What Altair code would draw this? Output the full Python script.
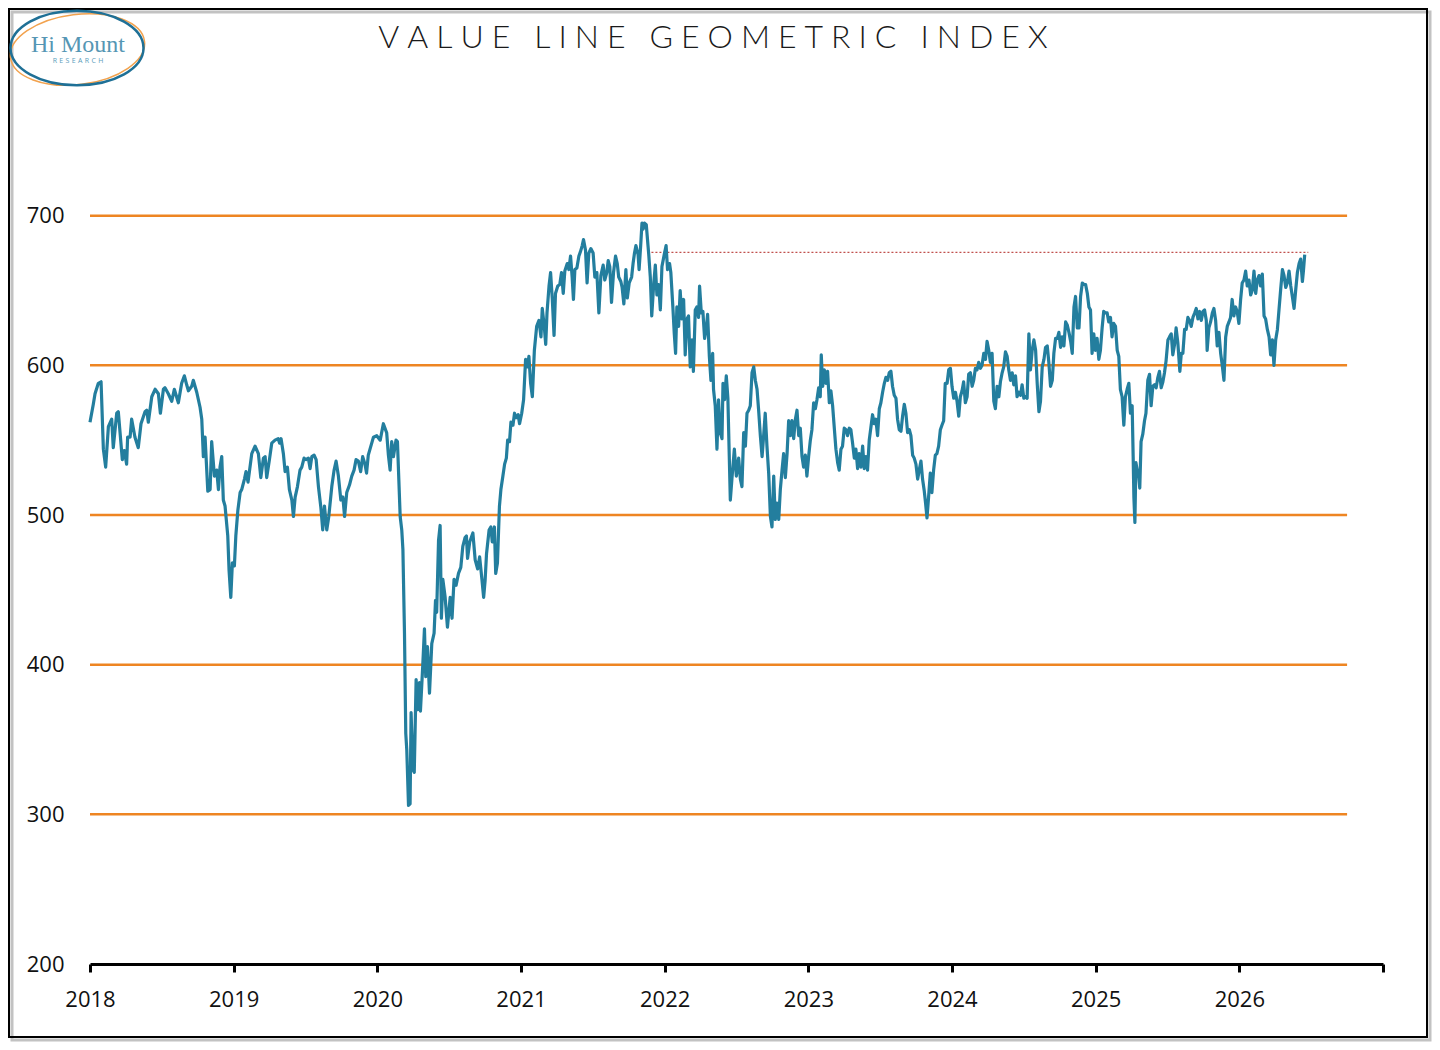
import altair as alt
import pandas as pd

# Index level, as (decimal year, level) pairs
pts_2018 = [
    (2018.000, 562), (2018.023, 574), (2018.035, 581), (2018.058, 588), (2018.077, 589),
    (2018.093, 544), (2018.109, 532), (2018.128, 559), (2018.151, 564), (2018.162, 545),
    (2018.186, 568), (2018.197, 569), (2018.225, 537), (2018.239, 543), (2018.255, 534),
    (2018.262, 552), (2018.279, 552), (2018.290, 564), (2018.313, 552), (2018.336, 545),
    (2018.355, 561), (2018.383, 569), (2018.395, 570), (2018.406, 562), (2018.430, 579),
    (2018.453, 584), (2018.476, 581), (2018.490, 568), (2018.511, 584), (2018.522, 585),
    (2018.545, 581), (2018.569, 576), (2018.587, 584), (2018.615, 575), (2018.638, 588),
    (2018.657, 593), (2018.673, 587), (2018.685, 583), (2018.708, 586), (2018.719, 590),
    (2018.743, 582), (2018.766, 572), (2018.778, 564), (2018.789, 539), (2018.801, 552),
    (2018.820, 516), (2018.836, 517), (2018.847, 549), (2018.866, 526), (2018.882, 530),
    (2018.894, 517), (2018.905, 532), (2018.917, 539), (2018.928, 510), (2018.940, 506),
    (2018.959, 486), (2018.968, 463), (2018.980, 445), (2018.991, 468),
]
pts_2019 = [
    (2019.005, 466), (2019.015, 486), (2019.029, 503), (2019.045, 515), (2019.056, 517),
    (2019.075, 524), (2019.086, 529), (2019.100, 522), (2019.126, 541), (2019.149, 546),
    (2019.172, 541), (2019.189, 525), (2019.207, 538), (2019.219, 539), (2019.230, 525),
    (2019.249, 537), (2019.265, 548), (2019.288, 550), (2019.310, 551), (2019.320, 548),
    (2019.330, 551), (2019.346, 541), (2019.358, 529), (2019.374, 532), (2019.388, 517),
    (2019.405, 510), (2019.416, 499), (2019.428, 512), (2019.444, 519), (2019.462, 530),
    (2019.474, 532), (2019.490, 538), (2019.503, 537), (2019.520, 538), (2019.532, 531),
    (2019.544, 539), (2019.560, 540), (2019.574, 537), (2019.590, 519), (2019.607, 505),
    (2019.620, 490), (2019.632, 506), (2019.648, 490), (2019.662, 499), (2019.683, 519),
    (2019.699, 530), (2019.713, 536), (2019.729, 526), (2019.746, 510), (2019.760, 512),
    (2019.772, 499), (2019.787, 515), (2019.806, 520), (2019.822, 526), (2019.838, 530),
    (2019.852, 537), (2019.868, 536), (2019.884, 529), (2019.898, 539), (2019.914, 534),
    (2019.925, 528), (2019.937, 540), (2019.973, 552), (2019.996, 553),
]
pts_2020 = [
    (2020.020, 550), (2020.042, 561), (2020.065, 555), (2020.077, 540), (2020.089, 530),
    (2020.100, 549), (2020.112, 539), (2020.130, 550), (2020.140, 549), (2020.159, 499),
    (2020.170, 490), (2020.178, 477), (2020.189, 421), (2020.198, 354), (2020.205, 343),
    (2020.217, 306), (2020.228, 307), (2020.235, 368), (2020.247, 330), (2020.257, 328),
    (2020.270, 390), (2020.282, 370), (2020.293, 388), (2020.300, 369), (2020.316, 399),
    (2020.328, 424), (2020.337, 392), (2020.349, 412), (2020.363, 381), (2020.379, 414),
    (2020.395, 421), (2020.405, 443), (2020.413, 435), (2020.426, 483), (2020.437, 493),
    (2020.446, 431), (2020.456, 457), (2020.472, 445), (2020.488, 425), (2020.507, 445),
    (2020.520, 431), (2020.534, 457), (2020.548, 453), (2020.565, 461), (2020.581, 465),
    (2020.595, 479), (2020.611, 485), (2020.620, 486), (2020.628, 471), (2020.643, 482),
    (2020.665, 488), (2020.681, 470), (2020.698, 464), (2020.712, 472), (2020.728, 457),
    (2020.740, 445), (2020.750, 456), (2020.760, 474), (2020.778, 490), (2020.790, 492),
    (2020.800, 482), (2020.815, 492), (2020.824, 461), (2020.836, 468), (2020.850, 506),
    (2020.860, 517), (2020.874, 526), (2020.886, 534), (2020.898, 538), (2020.907, 550),
    (2020.920, 549), (2020.930, 562), (2020.944, 560), (2020.955, 568), (2020.967, 565),
    (2020.980, 567), (2020.990, 561),
]
pts_2021 = [
    (2021.005, 568), (2021.018, 577), (2021.032, 604), (2021.046, 599), (2021.055, 606),
    (2021.067, 588), (2021.079, 579), (2021.093, 610), (2021.109, 626), (2021.125, 630),
    (2021.139, 619), (2021.148, 638), (2021.162, 626), (2021.172, 614), (2021.181, 635),
    (2021.195, 653), (2021.206, 662), (2021.218, 644), (2021.230, 620), (2021.240, 648),
    (2021.256, 653), (2021.270, 654), (2021.282, 662), (2021.294, 648), (2021.305, 663),
    (2021.322, 668), (2021.333, 664), (2021.345, 673), (2021.356, 659), (2021.365, 644),
    (2021.375, 664), (2021.389, 665), (2021.403, 673), (2021.414, 676), (2021.426, 680),
    (2021.435, 684), (2021.449, 677), (2021.460, 655), (2021.472, 675), (2021.486, 678),
    (2021.502, 675), (2021.514, 659), (2021.528, 662), (2021.542, 635), (2021.556, 660),
    (2021.572, 667), (2021.583, 657), (2021.597, 662), (2021.607, 670), (2021.618, 666),
    (2021.630, 642), (2021.644, 662), (2021.658, 673), (2021.670, 668), (2021.680, 659),
    (2021.695, 656), (2021.704, 652), (2021.716, 641), (2021.730, 664), (2021.740, 645),
    (2021.753, 655), (2021.770, 659), (2021.780, 668), (2021.790, 675), (2021.800, 680),
    (2021.815, 674), (2021.822, 664), (2021.833, 680), (2021.842, 695), (2021.850, 691),
    (2021.860, 695), (2021.872, 694), (2021.884, 680), (2021.890, 673), (2021.900, 659),
    (2021.910, 633), (2021.925, 656), (2021.935, 667), (2021.946, 647), (2021.958, 654),
    (2021.970, 637), (2021.981, 666), (2021.997, 674),
]
pts_2022 = [
    (2022.010, 680), (2022.020, 664), (2022.034, 668), (2022.043, 662), (2022.057, 639),
    (2022.067, 621), (2022.076, 608), (2022.085, 639), (2022.097, 626), (2022.108, 650),
    (2022.120, 631), (2022.132, 644), (2022.143, 607), (2022.155, 631), (2022.166, 633),
    (2022.178, 599), (2022.190, 617), (2022.200, 596), (2022.213, 637), (2022.224, 639),
    (2022.236, 632), (2022.243, 653), (2022.255, 635), (2022.266, 636), (2022.278, 618),
    (2022.290, 625), (2022.299, 634), (2022.311, 606), (2022.322, 590), (2022.334, 608),
    (2022.340, 584), (2022.352, 573), (2022.364, 544), (2022.375, 577), (2022.387, 555),
    (2022.399, 551), (2022.406, 588), (2022.417, 577), (2022.429, 593), (2022.440, 578),
    (2022.457, 510), (2022.468, 524), (2022.485, 544), (2022.499, 526), (2022.515, 538),
    (2022.527, 524), (2022.538, 519), (2022.550, 555), (2022.562, 546), (2022.573, 568),
    (2022.585, 570), (2022.596, 573), (2022.608, 595), (2022.620, 599), (2022.631, 590),
    (2022.643, 584), (2022.654, 570), (2022.666, 553), (2022.678, 539), (2022.689, 553),
    (2022.700, 568), (2022.712, 546), (2022.724, 528), (2022.736, 499), (2022.747, 492),
    (2022.759, 526), (2022.770, 497), (2022.782, 508), (2022.794, 497), (2022.805, 517),
    (2022.817, 530), (2022.828, 541), (2022.840, 525), (2022.852, 541), (2022.863, 563),
    (2022.875, 553), (2022.886, 563), (2022.898, 551), (2022.910, 564), (2022.921, 570),
    (2022.933, 553), (2022.944, 558), (2022.956, 539), (2022.967, 532), (2022.979, 540),
    (2022.990, 526),
]
pts_2023 = [
    (2023.002, 539), (2023.014, 550), (2023.025, 557), (2023.037, 575), (2023.049, 571),
    (2023.060, 577), (2023.072, 585), (2023.083, 579), (2023.090, 607), (2023.100, 586),
    (2023.111, 597), (2023.123, 588), (2023.134, 596), (2023.146, 575), (2023.157, 583),
    (2023.169, 573), (2023.180, 559), (2023.192, 544), (2023.204, 535), (2023.215, 530),
    (2023.227, 544), (2023.238, 546), (2023.250, 558), (2023.262, 557), (2023.273, 553),
    (2023.285, 558), (2023.296, 557), (2023.308, 548), (2023.320, 538), (2023.331, 544),
    (2023.343, 531), (2023.354, 541), (2023.366, 532), (2023.378, 546), (2023.389, 531),
    (2023.401, 539), (2023.412, 530), (2023.424, 550), (2023.436, 559), (2023.447, 567),
    (2023.459, 561), (2023.470, 564), (2023.482, 553), (2023.494, 571), (2023.505, 575),
    (2023.517, 582), (2023.529, 588), (2023.540, 592), (2023.552, 590), (2023.563, 595),
    (2023.575, 596), (2023.586, 586), (2023.598, 580), (2023.610, 578), (2023.621, 564),
    (2023.633, 557), (2023.645, 556), (2023.656, 566), (2023.668, 574), (2023.679, 568),
    (2023.691, 555), (2023.703, 557), (2023.714, 553), (2023.726, 540), (2023.737, 538),
    (2023.749, 534), (2023.761, 524), (2023.772, 530), (2023.784, 536), (2023.795, 524),
    (2023.807, 516), (2023.816, 508), (2023.826, 498), (2023.837, 512), (2023.849, 528),
    (2023.860, 515), (2023.872, 530), (2023.884, 540), (2023.895, 541), (2023.907, 546),
    (2023.919, 557), (2023.930, 560), (2023.942, 563), (2023.953, 588), (2023.966, 588),
    (2023.977, 597), (2023.989, 598),
]
pts_2024 = [
    (2024.000, 586), (2024.012, 578), (2024.024, 582), (2024.035, 576), (2024.047, 566),
    (2024.058, 579), (2024.070, 583), (2024.081, 589), (2024.093, 575), (2024.105, 579),
    (2024.116, 594), (2024.128, 595), (2024.140, 586), (2024.151, 590), (2024.163, 598),
    (2024.174, 597), (2024.186, 602), (2024.198, 598), (2024.209, 600), (2024.221, 608),
    (2024.233, 604), (2024.244, 616), (2024.256, 610), (2024.267, 602), (2024.279, 608),
    (2024.291, 576), (2024.302, 571), (2024.314, 586), (2024.326, 579), (2024.337, 589),
    (2024.349, 595), (2024.360, 599), (2024.372, 609), (2024.384, 606), (2024.395, 597),
    (2024.407, 590), (2024.419, 595), (2024.430, 587), (2024.442, 593), (2024.453, 579),
    (2024.465, 582), (2024.477, 580), (2024.488, 587), (2024.500, 578), (2024.512, 579),
    (2024.523, 578), (2024.535, 621), (2024.546, 597), (2024.558, 610), (2024.570, 617),
    (2024.582, 610), (2024.593, 588), (2024.605, 569), (2024.616, 576), (2024.628, 599),
    (2024.640, 604), (2024.651, 612), (2024.663, 613), (2024.674, 602), (2024.686, 586),
    (2024.698, 590), (2024.709, 608), (2024.721, 618), (2024.733, 618), (2024.744, 622),
    (2024.756, 612), (2024.767, 619), (2024.779, 613), (2024.791, 629), (2024.802, 627),
    (2024.814, 622), (2024.826, 616), (2024.837, 608), (2024.849, 639), (2024.860, 646),
    (2024.872, 625), (2024.884, 625), (2024.895, 646), (2024.907, 655), (2024.918, 654),
    (2024.930, 654), (2024.942, 648), (2024.953, 639), (2024.964, 637), (2024.975, 608),
    (2024.987, 621), (2024.998, 610),
]
pts_2025 = [
    (2025.010, 618), (2025.022, 604), (2025.033, 610), (2025.045, 625), (2025.056, 636),
    (2025.068, 635), (2025.080, 635), (2025.091, 629), (2025.103, 632), (2025.114, 619),
    (2025.126, 628), (2025.138, 626), (2025.150, 610), (2025.161, 606), (2025.172, 584),
    (2025.184, 579), (2025.196, 560), (2025.207, 579), (2025.219, 584), (2025.231, 588),
    (2025.242, 568), (2025.254, 573), (2025.261, 539), (2025.266, 512), (2025.273, 495),
    (2025.280, 535), (2025.289, 530), (2025.300, 526), (2025.307, 518), (2025.316, 549),
    (2025.328, 554), (2025.340, 563), (2025.350, 568), (2025.363, 590), (2025.375, 594),
    (2025.386, 573), (2025.398, 586), (2025.410, 587), (2025.421, 585), (2025.433, 592),
    (2025.444, 596), (2025.456, 585), (2025.468, 589), (2025.479, 595), (2025.490, 603),
    (2025.503, 617), (2025.514, 619), (2025.526, 621), (2025.537, 607), (2025.549, 614),
    (2025.560, 625), (2025.572, 615), (2025.586, 596), (2025.596, 608), (2025.607, 608),
    (2025.619, 624), (2025.630, 624), (2025.642, 632), (2025.654, 630), (2025.665, 626),
    (2025.677, 632), (2025.689, 635), (2025.700, 638), (2025.712, 631), (2025.724, 636),
    (2025.735, 630), (2025.747, 636), (2025.758, 637), (2025.770, 630), (2025.776, 610),
    (2025.788, 625), (2025.800, 629), (2025.812, 635), (2025.823, 638), (2025.835, 630),
    (2025.846, 613), (2025.858, 622), (2025.870, 608), (2025.881, 600), (2025.893, 590),
    (2025.905, 619), (2025.916, 626), (2025.928, 629), (2025.939, 632), (2025.950, 644),
    (2025.962, 633), (2025.974, 639), (2025.985, 636), (2025.997, 628),
]
pts_2026 = [
    (2026.009, 644), (2026.020, 655), (2026.032, 657), (2026.044, 663), (2026.055, 653),
    (2026.067, 657), (2026.079, 647), (2026.090, 650), (2026.102, 663), (2026.114, 648),
    (2026.125, 657), (2026.137, 660), (2026.148, 653), (2026.160, 661), (2026.172, 633),
    (2026.183, 631), (2026.195, 624), (2026.207, 619), (2026.218, 607), (2026.230, 617),
    (2026.241, 600), (2026.253, 617), (2026.265, 624), (2026.276, 637), (2026.288, 651),
    (2026.300, 664), (2026.311, 660), (2026.323, 652), (2026.334, 655), (2026.346, 663),
    (2026.358, 653), (2026.369, 646), (2026.381, 638), (2026.393, 651), (2026.404, 662),
    (2026.416, 668), (2026.427, 671), (2026.439, 656), (2026.446, 663), (2026.455, 674),
]

grid_levels = [300, 400, 500, 600, 700]
grid_start, grid_end = 2018.0, 2026.75
prior_high = 675.5
prior_high_start, prior_high_end = 2021.88, 2026.48
year_ticks = list(range(2018, 2028))
level_ticks = [200, 300, 400, 500, 600, 700]

TITLE = "VALUE LINE GEOMETRIC INDEX"
LOGO_NAME = "Hi Mount"
LOGO_SUB = "RESEARCH"

PLOT_W, PLOT_H = 1293, 898
LINE_BLUE = "#237e9e"
GRID_ORANGE = "#ee8522"
ELLIPSE = "M-1,0A1,0.56,0,1,1,1,0A1,0.56,0,1,1,-1,0Z"


def spaced(text, gap, word_gap):
    return word_gap.join(gap.join(word) for word in text.split())


series = pts_2018 + pts_2019 + pts_2020 + pts_2021 + pts_2022 + pts_2023 + pts_2024 + pts_2025 + pts_2026
line_df = pd.DataFrame(series, columns=["year", "level"])
grid_df = pd.DataFrame({"year": grid_start, "year_end": grid_end, "level": grid_levels})
high_df = pd.DataFrame({"year": [prior_high_start], "year_end": [prior_high_end], "level": [prior_high]})
one_row = pd.DataFrame({"k": [0]})

x_enc = alt.X(
    "year:Q",
    scale=alt.Scale(domain=[2018, 2027], nice=False, zero=False),
    axis=alt.Axis(
        values=year_ticks, format="d", title=None, grid=False,
        labelExpr="datum.value == 2027 ? '' : datum.label",
        domainColor="black", domainWidth=3, tickColor="black", tickWidth=3, tickSize=8,
        labelFont="Open Sans", labelFontSize=22, labelColor="#111111", labelPadding=17,
        labelFlush=False, labelOverlap=False,
    ),
)
y_enc = alt.Y(
    "level:Q",
    scale=alt.Scale(domain=[200, 800], nice=False, zero=False),
    axis=alt.Axis(
        values=level_ticks, title=None, grid=False, domain=False, ticks=False,
        labelFont="Open Sans", labelFontSize=22, labelColor="#111111", labelPadding=26,
    ),
)

grid = alt.Chart(grid_df).mark_rule(color=GRID_ORANGE, strokeWidth=2.5).encode(
    x=x_enc, x2="year_end:Q", y=y_enc
)
high_line = alt.Chart(high_df).mark_rule(color="#c0504d", strokeWidth=1.3, strokeDash=[2, 2]).encode(
    x=x_enc, x2="year_end:Q", y=y_enc
)
index_line = alt.Chart(line_df).mark_line(color=LINE_BLUE, strokeWidth=3.2, strokeJoin="round").encode(
    x=x_enc, y=y_enc
)

# outer frame with a soft shadow
shadow = alt.Chart(one_row).mark_rect(fillOpacity=0, stroke="#9a9a9a", strokeWidth=3, strokeOpacity=0.6).encode(
    x=alt.value(-78), x2=alt.value(1340), y=alt.value(-54), y2=alt.value(974)
)
frame = alt.Chart(one_row).mark_rect(fillOpacity=0, stroke="black", strokeWidth=2).encode(
    x=alt.value(-81), x2=alt.value(1337), y=alt.value(-57), y2=alt.value(971)
)

title = alt.Chart(one_row).mark_text(
    text=spaced(TITLE, "\u2005", "\u2002\u2005"), font="Lato", fontWeight=300, fontSize=32,
    color="#1a1a1a", align="center", baseline="alphabetic",
).encode(x=alt.value(623), y=alt.value(-18))

# logo: two overlapping ellipses and the firm name
ring_blue = alt.Chart(one_row).mark_point(
    shape=ELLIPSE, size=133 * 133, filled=False, stroke="#1f7096", strokeWidth=2.5, opacity=1
).encode(x=alt.value(-13), y=alt.value(-18))
ring_orange = alt.Chart(one_row).mark_point(
    shape="M-1,0A1,0.52,0,1,1,1,0A1,0.52,0,1,1,-1,0Z", size=135 * 135, angle=353,
    filled=False, stroke="#f2a24e", strokeWidth=1.5, opacity=1
).encode(x=alt.value(-12.5), y=alt.value(-16.5))
logo_name = alt.Chart(one_row).mark_text(
    text=LOGO_NAME, font="Liberation Serif", fontSize=24, color="#5596b4",
    align="center", baseline="alphabetic",
).encode(x=alt.value(-12), y=alt.value(-14))
logo_sub = alt.Chart(one_row).mark_text(
    text=spaced(LOGO_SUB, "\u2004", "\u2004"), font="Open Sans", fontSize=7, color="#5a9cbb",
    align="center", baseline="middle",
).encode(x=alt.value(-12), y=alt.value(-5))

chart = (
    alt.layer(grid, high_line, index_line, shadow, frame, title, ring_orange, ring_blue, logo_name, logo_sub)
    .properties(
        width=PLOT_W,
        height=PLOT_H,
        padding={"left": 82, "top": 58, "right": 49, "bottom": 78},
        autosize=alt.AutoSizeParams(type="none"),
        background="white",
    )
    .configure_view(strokeWidth=0)
)

chart.save("out.html", embed_options={"renderer": "svg", "actions": False})
